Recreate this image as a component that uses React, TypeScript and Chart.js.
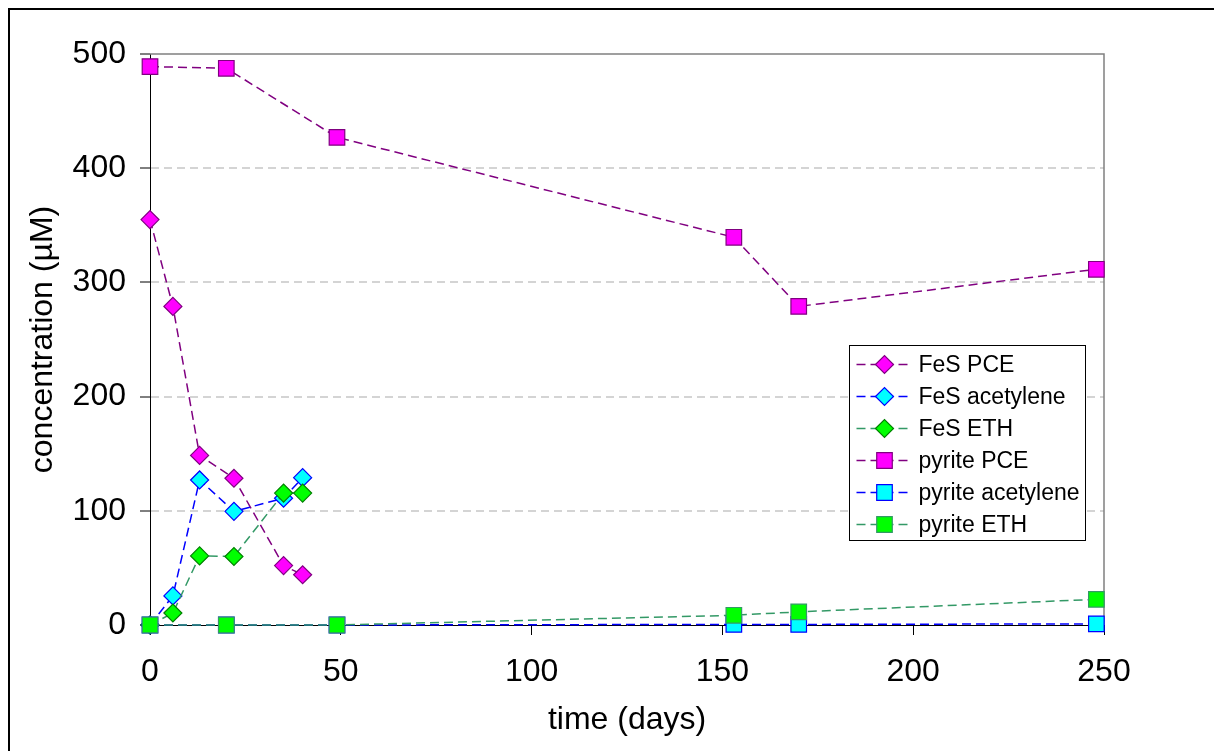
import React, { useEffect, useRef } from 'react';
import { Chart, registerables } from 'chart.js';

Chart.register(...registerables);

// ---- data ----
const fesDays = [0, 6, 13, 22, 35, 40];
const pyriteDays = [0, 20, 49, 153, 170, 248];

const fesPCE = [355, 279, 148.5, 128.5, 52, 44];
const fesAcetylene = [0, 25.5, 127, 99.5, 111, 129];
const fesETH = [0, 10.5, 60.5, 60, 115.5, 115.5];

const pyritePCE = [489, 487.5, 427, 339.5, 279, 311.5];
const pyriteAcetylene = [0, 0, 0, 0.5, 0.5, 1];
const pyriteETH = [0, 0, 0, 8.5, 11.5, 22.5];

const seriesNames = ['FeS PCE', 'FeS acetylene', 'FeS ETH', 'pyrite PCE', 'pyrite acetylene', 'pyrite ETH'];
const xTitle = 'time (days)';
const yTitle = 'concentration (µM)';

// ---- styles ----
const FONT = "'Liberation Sans', Arial, Helvetica, sans-serif";
const lineColors = ['#800080', '#0000FF', '#339966', '#800080', '#0000FF', '#339966'];
const fillColors = ['#FF00FF', '#00FFFF', '#00FF00', '#FF00FF', '#00FFFF', '#00FF00'];
const edgeColors = ['#800080', '#0000FF', '#008000', '#800080', '#0000FF', '#339966'];
const markerStyles = ['rectRot', 'rectRot', 'rectRot', 'rect', 'rect', 'rect'];

const makeSet = (i: number, xs: number[], ys: number[]) => ({
  label: seriesNames[i],
  data: xs.map((x, k) => ({ x, y: ys[k] })),
  showLine: true,
  borderColor: lineColors[i],
  borderWidth: 1.5,
  borderDash: [9, 5],
  pointStyle: markerStyles[i],
  pointRadius: markerStyles[i] === 'rect' ? 11 : 9,
  pointHoverRadius: markerStyles[i] === 'rect' ? 11 : 9,
  pointBackgroundColor: fillColors[i],
  pointBorderColor: edgeColors[i],
  pointBorderWidth: 1.2,
  clip: false,
  tension: 0,
  fill: false,
  order: 6 - i,
});

const drawMarker = (ctx: CanvasRenderingContext2D, style: string, r: number, x: number, y: number) => {
  ctx.beginPath();
  if (style === 'rect') {
    const s = Math.SQRT1_2 * r;
    ctx.rect(x - s, y - s, 2 * s, 2 * s);
  } else {
    ctx.moveTo(x - r, y);
    ctx.lineTo(x, y - r);
    ctx.lineTo(x + r, y);
    ctx.lineTo(x, y + r);
    ctx.closePath();
  }
  ctx.fill();
  ctx.stroke();
};

const legendBox = { left: 849.5, top: 345.5, width: 236, height: 195, rowStart: 19, rowGap: 32, lineFrom: 7, lineTo: 63, marker: 35, text: 69 };

const boxLegend = {
  id: 'boxLegend',
  afterDraw(chart: any) {
    const ctx: CanvasRenderingContext2D = chart.ctx;
    const L = legendBox;
    ctx.save();
    ctx.fillStyle = '#ffffff';
    ctx.fillRect(L.left, L.top, L.width, L.height);
    ctx.strokeStyle = '#000000';
    ctx.lineWidth = 1;
    ctx.setLineDash([]);
    ctx.strokeRect(L.left, L.top, L.width, L.height);
    chart.data.datasets.forEach((ds: any, i: number) => {
      const y = L.top + L.rowStart + i * L.rowGap;
      ctx.strokeStyle = ds.borderColor;
      ctx.lineWidth = ds.borderWidth;
      ctx.setLineDash(ds.borderDash);
      ctx.beginPath();
      ctx.moveTo(L.left + L.lineFrom, y);
      ctx.lineTo(L.left + L.lineTo, y);
      ctx.stroke();
      ctx.setLineDash([]);
      ctx.fillStyle = ds.pointBackgroundColor;
      ctx.strokeStyle = ds.pointBorderColor;
      ctx.lineWidth = ds.pointBorderWidth;
      drawMarker(ctx, ds.pointStyle, ds.pointRadius, L.left + L.marker, y);
      ctx.fillStyle = '#000000';
      ctx.font = `23px ${FONT}`;
      ctx.textAlign = 'left';
      ctx.textBaseline = 'middle';
      ctx.fillText(ds.label, L.left + L.text, y + 1);
    });
    ctx.restore();
  },
};

const frames = {
  id: 'frames',
  beforeDatasetsDraw(chart: any) {
    const { ctx, chartArea } = chart;
    ctx.save();
    ctx.strokeStyle = '#808080';
    ctx.lineWidth = 1.5;
    ctx.beginPath();
    ctx.moveTo(chartArea.left, chartArea.top);
    ctx.lineTo(chartArea.right, chartArea.top);
    ctx.lineTo(chartArea.right, chartArea.bottom);
    ctx.stroke();
    ctx.restore();
  },
  afterDraw(chart: any) {
    const { ctx, width, height } = chart;
    ctx.save();
    ctx.strokeStyle = '#000000';
    ctx.lineWidth = 2;
    ctx.beginPath();
    ctx.moveTo(9, height);
    ctx.lineTo(9, 9);
    ctx.lineTo(width, 9);
    ctx.stroke();
    ctx.restore();
  },
};

export default function App() {
  const ref = useRef<HTMLCanvasElement | null>(null);

  useEffect(() => {
    if (!ref.current) return;
    const chart = new Chart(ref.current, {
      type: 'scatter',
      data: {
        datasets: [
          makeSet(0, fesDays, fesPCE),
          makeSet(1, fesDays, fesAcetylene),
          makeSet(2, fesDays, fesETH),
          makeSet(3, pyriteDays, pyritePCE),
          makeSet(4, pyriteDays, pyriteAcetylene),
          makeSet(5, pyriteDays, pyriteETH),
        ] as any,
      },
      options: {
        animation: false,
        responsive: false,
        devicePixelRatio: 1,
        layout: { padding: { left: 0, top: 54, right: 110, bottom: 0 } },
        plugins: { legend: { display: false }, tooltip: { enabled: false } },
        events: [],
        scales: {
          x: {
            type: 'linear',
            min: 0,
            max: 250,
            afterFit: (s: any) => { s.height = 126; },
            ticks: { stepSize: 50, color: '#000', font: { family: FONT, size: 32 }, padding: 18, maxRotation: 0 },
            grid: { drawOnChartArea: false, drawTicks: true, tickLength: 10, tickColor: '#000', tickWidth: 1 },
            border: { display: true, color: '#000', width: 1 },
            title: { display: true, text: xTitle, color: '#000', font: { family: FONT, size: 32 }, padding: { top: 0, bottom: 12 } },
          },
          y: {
            type: 'linear',
            min: 0,
            max: 500,
            afterFit: (s: any) => { s.width = 150; },
            ticks: { stepSize: 100, color: '#000', font: { family: FONT, size: 32 }, padding: 14 },
            grid: {
              drawOnChartArea: true,
              drawTicks: true,
              tickLength: 10,
              tickColor: '#000',
              tickWidth: 1,
              lineWidth: 2,
              color: (c: any) => (c.tick && (c.tick.value === 0 || c.tick.value === 500) ? 'rgba(0,0,0,0)' : '#d4d4d4'),
            },
            border: { display: true, color: '#000', width: 1, dash: [8, 5] },
            title: { display: true, text: yTitle, color: '#000', font: { family: FONT, size: 32 }, padding: { top: 24, bottom: 0 } },
          },
        },
      } as any,
      plugins: [frames, boxLegend],
    });
    return () => chart.destroy();
  }, []);

  return (
    <div style={{ position: 'fixed', left: 0, top: 0, width: 1214, height: 751, background: '#fff' }}>
      <canvas ref={ref} width={1214} height={751} style={{ display: 'block', width: 1214, height: 751 }} />
    </div>
  );
}
